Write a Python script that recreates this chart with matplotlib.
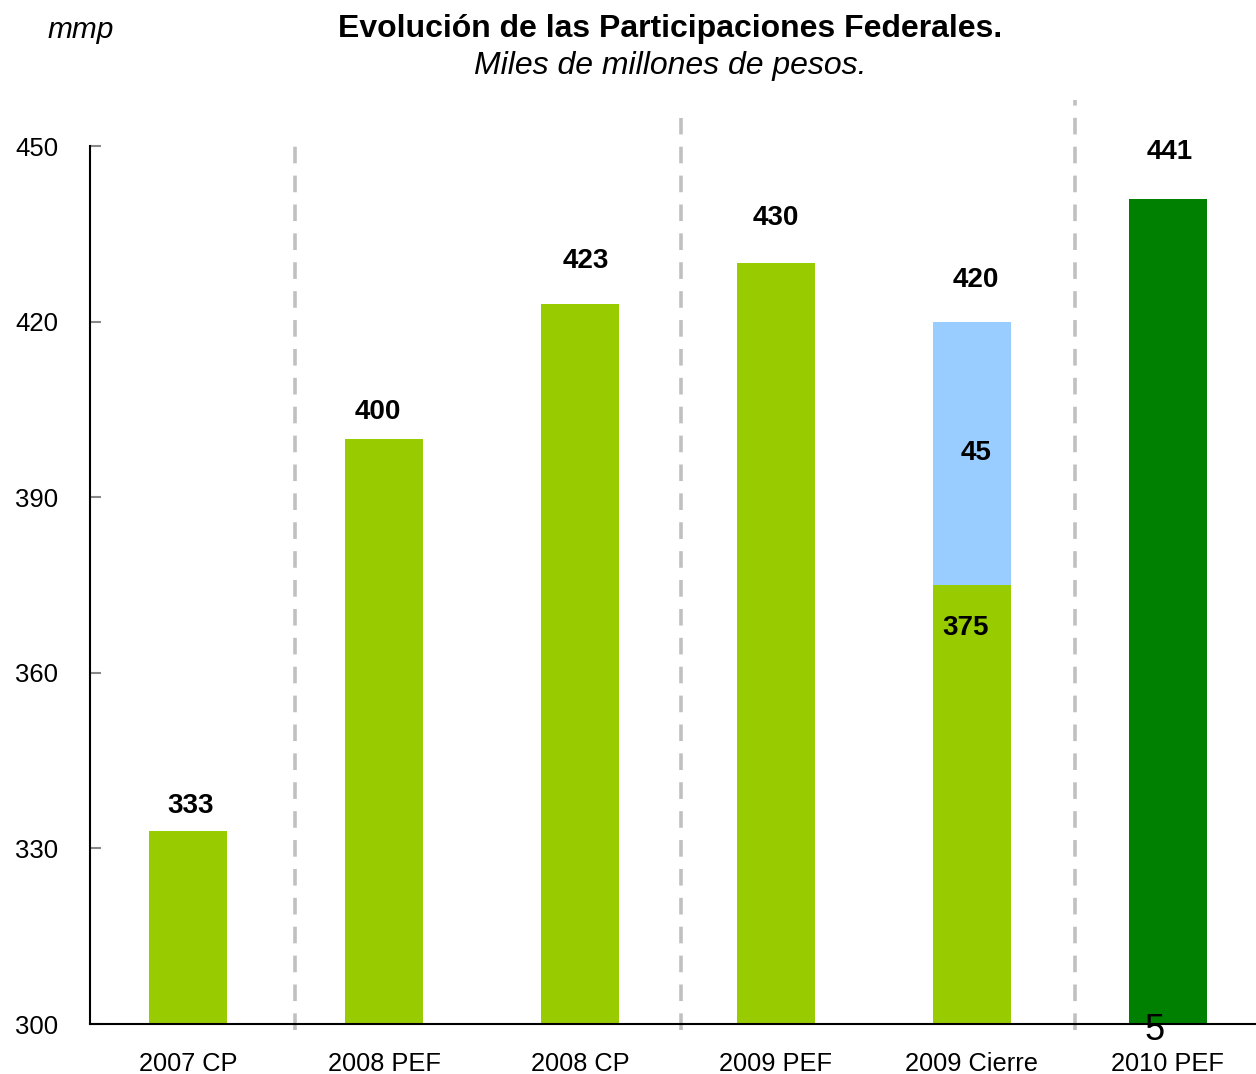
import matplotlib
matplotlib.use("Agg")
import matplotlib.pyplot as plt

plt.rcParams['font.family'] = ['Liberation Sans', 'DejaVu Sans']

# Datos (miles de millones de pesos)
categories = ["2007 CP", "2008 PEF", "2008 CP", "2009 PEF", "2009 Cierre", "2010 PEF"]
base_values = [333, 400, 423, 430, 375, 441]
extra_values = [0, 0, 0, 0, 45, 0]
base_colors = ["#99cc00", "#99cc00", "#99cc00", "#99cc00", "#99cc00", "#008000"]
top_labels = ["333", "400", "423", "430", "420", "441"]
separators = [0.545, 2.515, 4.525]
sep_tops = [450, 454.8, 457.8]

# desplazamiento de las etiquetas sobre cada barra (x en categorias, y en mmp)
label_dx = [0.015, -0.03, 0.03, 0.0, 0.02, 0.01]
label_dy = [4.2, 4.6, 7.4, 7.7, 7.1, 8.0]

fig = plt.figure(figsize=(12.56, 10.74), dpi=100)
ax = fig.add_axes([90 / 1256, 1 - 1024 / 1074, 1 - 90 / 1256, 878 / 1074])

x = list(range(len(categories)))
ax.bar(x, [v - 300 for v in base_values], bottom=300, width=0.4, color=base_colors)
ax.bar(x, extra_values, bottom=base_values, width=0.4, color="#99ccff")

for i, v in enumerate(base_values):
    total = v + extra_values[i]
    ax.text(i + label_dx[i], total + label_dy[i], top_labels[i], ha="center",
            va="center", fontsize=20, fontweight="bold", clip_on=False)

# etiquetas internas de 2009 Cierre
ax.text(3.97, base_values[4] - 7.3, str(base_values[4]), ha="center", va="center",
        fontsize=20, fontweight="bold")
ax.text(4.02, base_values[4] + 22.5, str(extra_values[4]), ha="center", va="center",
        fontsize=20, fontweight="bold")

for sx, st in zip(separators, sep_tops):
    ax.plot([sx, sx], [299, st], color="#c0c0c0", lw=2.6, ls=(0, (4.6, 3.4)),
            clip_on=False, zorder=0)

ax.set_xlim(-0.5, 5.45)
ax.set_ylim(300, 450)
ax.set_yticks([300, 330, 360, 390, 420, 450])
ax.set_xticks(x)
ax.set_xticklabels(categories, fontsize=18.3)
ax.tick_params(axis="y", direction="in", length=8, width=1.5, color="#888888",
               labelsize=18.5, pad=23)
ax.tick_params(axis="x", length=0, pad=20)

ax.spines["top"].set_visible(False)
ax.spines["right"].set_visible(False)
ax.spines["left"].set_linewidth(1.5)
ax.spines["bottom"].set_linewidth(1.5)

fig.text(670 / 1256, 1 - 29 / 1074, "Evolución de las Participaciones Federales.",
         ha="center", va="center", fontsize=23, fontweight="bold")
fig.text(670 / 1256, 1 - 66 / 1074, "Miles de millones de pesos.",
         ha="center", va="center", fontsize=23, style="italic")
fig.text(48 / 1256, 1 - 30 / 1074, "mmp", ha="left", va="center",
         fontsize=21.5, style="italic")
fig.text(1155 / 1256, 1 - 1031 / 1074, "5", ha="center", va="center", fontsize=26)

fig.savefig("out.png", dpi=100)
